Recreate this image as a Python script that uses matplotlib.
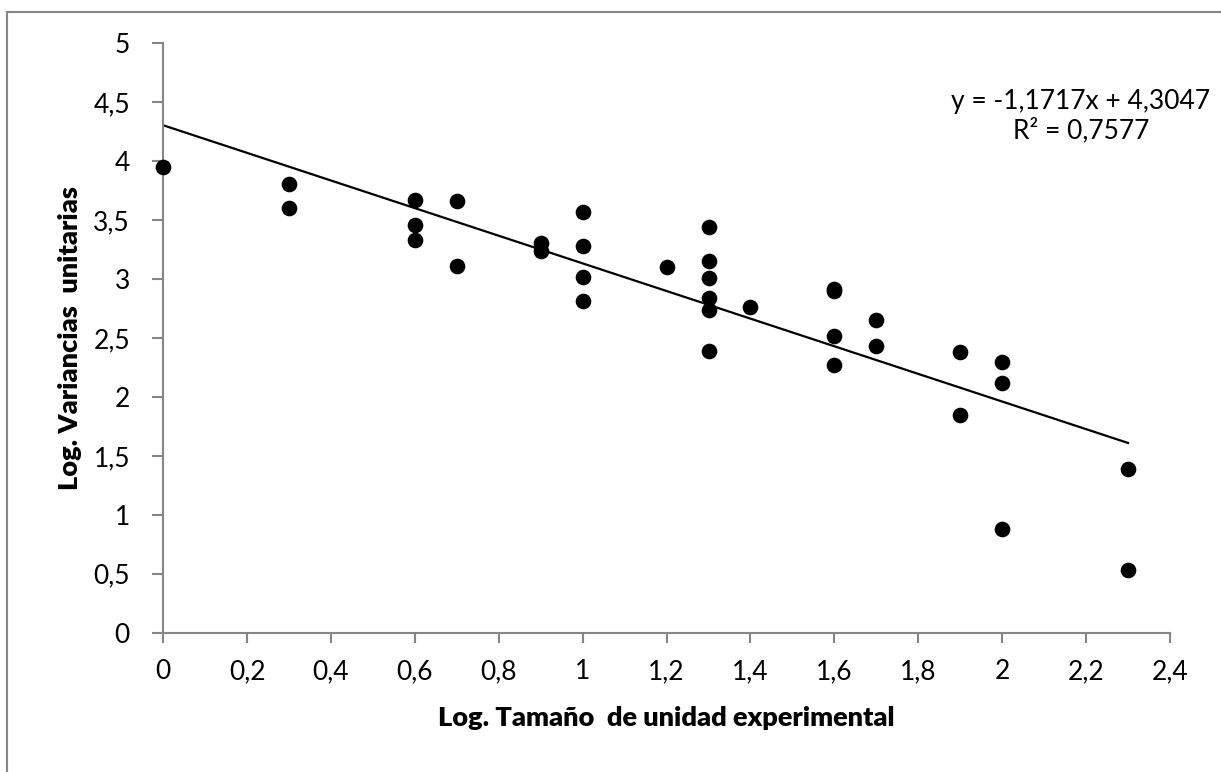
import matplotlib
matplotlib.use("Agg")
import matplotlib.pyplot as plt
from matplotlib.lines import Line2D
import numpy as np

plt.rcParams['font.family'] = ['Lato', 'DejaVu Sans']

log_size = [0.0, 0.30, 0.30, 0.60, 0.60, 0.60, 0.70, 0.70, 0.90, 0.90,
            1.0, 1.0, 1.0, 1.0, 1.20, 1.30, 1.30, 1.30, 1.30, 1.30, 1.30,
            1.40, 1.60, 1.60, 1.60, 1.60, 1.70, 1.70, 1.90, 1.90,
            2.0, 2.0, 2.0, 2.30, 2.30]
log_var = [3.95, 3.81, 3.60, 3.67, 3.46, 3.33, 3.66, 3.11, 3.31, 3.24,
           3.57, 3.28, 3.02, 2.81, 3.10, 3.44, 3.15, 3.01, 2.84, 2.74, 2.39,
           2.76, 2.92, 2.90, 2.52, 2.27, 2.65, 2.43, 2.38, 1.85,
           2.30, 2.12, 0.88, 1.39, 0.53]
slope = -1.1717
intercept = 4.3047
r2 = 0.7577
x_ticks = [0, 0.2, 0.4, 0.6, 0.8, 1.0, 1.2, 1.4, 1.6, 1.8, 2.0, 2.2, 2.4]
y_ticks = [0, 0.5, 1, 1.5, 2, 2.5, 3, 3.5, 4, 4.5, 5]

def fmt(v):
    return ('%g' % v).replace('.', ',')

fig = plt.figure(figsize=(12.21, 7.72), dpi=100)
ax = fig.add_axes([0.1337, 0.1804, 0.9582 - 0.1337, 0.9439 - 0.1804])

ax.scatter(log_size, log_var, s=105, color='black', zorder=3, clip_on=False)
xl = np.array([min(log_size), max(log_size)])
ax.plot(xl, slope * xl + intercept, color='black', lw=1.6, zorder=2)

ax.set_xlim(0, 2.4)
ax.set_ylim(0, 5)
ax.set_xticks(x_ticks)
ax.set_xticklabels([fmt(v) for v in x_ticks])
ax.set_yticks(y_ticks)
ax.set_yticklabels([fmt(v) for v in y_ticks])

gray = '#868686'
for s in ['top', 'right']:
    ax.spines[s].set_visible(False)
for s in ['left', 'bottom']:
    ax.spines[s].set_color(gray)
    ax.spines[s].set_linewidth(1.5)
ax.tick_params(axis='both', colors=gray, labelcolor='black', labelsize=19,
               direction='out', width=1.5)
ax.tick_params(axis='x', length=7, pad=12)
ax.tick_params(axis='y', length=8, pad=16)

ax.set_xlabel('Log. Tamaño  de unidad experimental', fontsize=19.5,
              fontweight='heavy', labelpad=16)
ax.set_ylabel('Log. Variancias  unitarias', fontsize=19.5,
              fontweight='heavy', labelpad=8)

eq = 'y = %s x + %s\nR² = %s' % (fmt(slope), fmt(intercept), fmt(r2))
eq = eq.replace(' x', 'x')
fig.text(1081 / 1221, 1 - 116 / 772, eq,
         ha='center', va='center', fontsize=19, linespacing=1.15)

# outer chart frame
fig.add_artist(Line2D([7.5 / 1221, 1.0], [1 - 11.5 / 772, 1 - 11.5 / 772],
                      color=gray, lw=1.5, transform=fig.transFigure))
fig.add_artist(Line2D([7.5 / 1221, 7.5 / 1221], [0, 1 - 11.5 / 772],
                      color=gray, lw=1.5, transform=fig.transFigure))

fig.savefig('out.png', dpi=100)
